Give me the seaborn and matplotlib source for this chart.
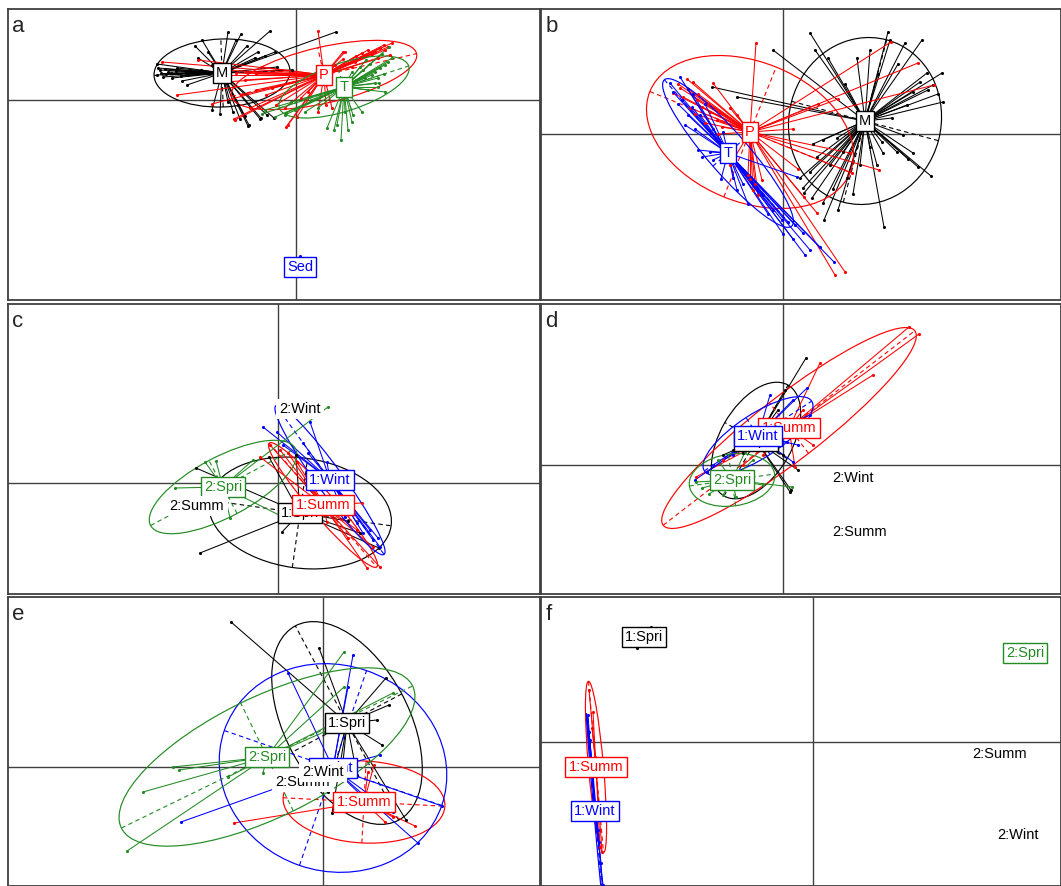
import numpy as np
import pandas as pd
import matplotlib
matplotlib.use("Agg")
import matplotlib.pyplot as plt
from matplotlib.patches import Ellipse
from matplotlib.collections import LineCollection
import seaborn as sns

sns.set_style("white")
plt.rcParams["font.family"] = ["Liberation Sans", "DejaVu Sans"]

BLACK, RED, BLUE, GREEN = "#000000", "#ff0000", "#0000ff", "#228b22"

# ---------------- panel a : classes M, P, Sed, T ----------------
a_labels = ["M", "P", "Sed", "T"]
a_colours = [BLACK, RED, BLUE, GREEN]
a_centres = [(-0.74, 0.27), (0.28, 0.25), (0.04, -1.67), (0.48, 0.13)]
a_ellipses = [(0.68, 0.34, 2), (0.95, 0.28, 13), None, (0.68, 0.24, 18)]
a_pts_M = [(-0.68, 0.68), (-0.26, 0.69), (0.40, 0.68), (-0.94, 0.60), (-0.49, 0.54), (-0.38, 0.48),
           (-1.01, 0.54), (-0.98, 0.42), (-0.88, 0.48), (-0.41, 0.42), (-0.31, 0.44), (-1.39, 0.36),
           (-1.38, 0.32), (-1.36, 0.30), (-1.39, 0.25), (-1.33, 0.23), (-1.28, 0.28), (-1.19, 0.32),
           (-1.24, 0.22), (-1.14, 0.19), (-1.09, 0.15), (-0.04, 0.30), (-0.19, 0.33), (-0.84, -0.10),
           (-0.76, -0.14), (-0.63, -0.12), (-0.56, -0.19), (-0.51, -0.16), (-0.47, -0.25), (-0.36, -0.19),
           (-0.29, -0.15), (-0.68, -0.02), (-0.58, -0.05), (-1.08, 0.25), (-1.31, 0.31), (-0.84, 0.35),
           (-0.21, 0.48), (-0.48, -0.26), (-0.35, -0.18), (-0.22, -0.18), (-1.30, 0.26), (-1.25, 0.27),
           (-1.20, 0.29), (-1.15, 0.24), (-1.35, 0.27), (-1.10, 0.28), (-1.00, 0.26), (-0.95, 0.30),
           (-0.60, 0.60), (-0.55, 0.66)]
a_pts_P = [(0.22, 0.69), (0.96, 0.57), (0.92, 0.53), (0.89, 0.50), (0.84, 0.52), (0.79, 0.48), (0.76, 0.46),
           (0.69, 0.45), (0.64, 0.42), (0.59, 0.38), (0.49, 0.48), (0.47, 0.41), (0.39, 0.35), (0.56, 0.33),
           (0.82, 0.42), (0.94, 0.45), (0.88, 0.55), (0.72, 0.50), (0.66, 0.47), (0.60, 0.44), (-1.34, 0.38),
           (-1.19, 0.05), (-0.84, -0.04), (-0.61, -0.20), (-0.46, -0.08), (-0.24, 0.12), (-0.08, -0.25),
           (-0.11, -0.08), (0.22, -0.12), (0.36, -0.08), (0.01, -0.17), (-0.71, 0.18), (-0.51, 0.20),
           (-0.34, 0.33), (0.12, 0.08), (-0.62, -0.19), (-0.10, -0.27), (0.47, 0.48), (-0.98, 0.40),
           (-0.40, 0.10), (-0.30, 0.05), (0.05, 0.02), (-0.20, -0.05), (0.30, -0.05), (-0.55, 0.05),
           (-0.75, 0.30), (-0.60, 0.27), (-0.50, 0.28), (-0.40, 0.26), (-0.70, 0.25)]
a_pts_Sed = [(0.04, -1.56)]
a_pts_T = [(0.96, 0.42), (0.92, 0.38), (0.89, 0.35), (0.84, 0.32), (0.79, 0.28), (0.76, 0.25), (0.69, 0.22),
           (0.64, 0.33), (0.56, 0.28), (0.82, 0.22), (0.93, 0.53), (0.83, 0.17), (0.89, 0.08), (0.82, 0.13),
           (0.79, 0.17), (0.72, 0.10), (0.45, -0.40), (0.31, -0.28), (0.41, -0.25), (0.56, -0.22),
           (0.66, -0.12), (0.49, -0.12), (0.57, -0.15), (-0.34, -0.14), (-0.21, -0.17), (-0.11, -0.15),
           (-0.01, -0.10), (0.09, -0.12), (0.22, -0.08), (-0.31, -0.10), (-0.10, -0.13), (0.38, -0.30),
           (0.52, -0.30), (0.86, 0.46), (0.74, 0.36), (0.67, 0.30), (0.60, 0.20), (0.88, 0.26),
           (0.70, 0.40), (0.15, 0.00), (-0.05, -0.02)]
a_points = [a_pts_M, a_pts_P, a_pts_Sed, a_pts_T]

# ---------------- panel b : classes M, P, T ----------------
b_labels = ["M", "P", "T"]
b_colours = [BLACK, RED, BLUE]
b_centres = [(0.82, 0.13), (-0.33, 0.02), (-0.55, -0.19)]
b_ellipses = [(0.84, 0.76, 75), (1.08, 0.70, -22), (0.97, 0.20, -49)]
b_pts_M = [(0.27, 1.01), (0.45, 0.76), (0.32, 0.84), (-0.10, 0.84), (0.74, 0.76), (0.87, 0.84), (1.05, 1.02),
           (1.07, 0.94), (1.22, 0.91), (1.39, 0.94), (1.44, 0.61), (1.59, 0.61), (1.50, 0.49), (1.37, 0.52),
           (1.30, 0.42), (1.24, 0.29), (1.60, 0.32), (1.09, 0.16), (-0.71, 0.47), (-0.46, 0.37), (0.40, -0.06),
           (0.54, -0.04), (0.60, -0.18), (0.34, -0.23), (0.27, -0.38), (0.20, -0.54), (0.29, -0.64),
           (0.40, -0.69), (0.55, -0.76), (0.41, -0.86), (1.01, -0.93), (0.21, -0.59), (0.17, -0.44),
           (1.00, -0.19), (1.14, -0.18), (1.30, -0.19), (1.35, -0.33), (0.99, -0.08), (0.87, -0.13),
           (0.94, -0.31), (0.47, -0.31), (0.64, -0.44), (0.77, -0.31), (1.20, -0.01), (1.45, 0.44),
           (1.55, 0.40), (1.15, 0.70), (0.95, 0.60), (0.62, 0.50), (0.30, -0.10), (0.50, -0.55),
           (0.70, -0.60), (1.48, -0.42), (1.25, -0.25)]
b_pts_P = [(-0.96, 0.55), (-0.90, 0.52), (-1.03, 0.46), (-1.10, 0.41), (-1.00, 0.37), (-0.86, 0.34),
           (-0.81, 0.27), (-0.73, 0.22), (-0.93, 0.26), (-0.66, 0.14), (-0.78, 0.11), (-0.61, 0.07),
           (-0.70, 0.51), (-0.53, 0.26), (-0.46, 0.19), (-0.95, 0.45), (-0.85, 0.40), (-0.75, 0.30),
           (-0.88, 0.20), (-0.30, -0.56), (-0.25, -0.61), (-0.21, -0.46), (-0.35, -0.41), (-0.53, -0.31),
           (-0.27, 0.91), (1.08, 0.92), (1.35, 0.71), (1.51, 0.49), (0.96, -0.36), (0.69, -0.39),
           (0.52, -1.41), (0.62, -1.38), (0.34, -0.79), (0.21, -0.63), (0.67, -0.19), (0.10, 0.05),
           (0.55, 0.35), (0.35, 0.30), (-0.28, -0.50), (-0.33, -0.45), (0.15, -0.35), (-0.65, 0.00),
           (-1.05, 0.50)]
b_pts_T = [(-1.03, 0.57), (-1.13, 0.51), (-1.10, 0.42), (-1.01, 0.34), (-0.95, 0.19), (-0.98, 0.09),
           (-0.91, 0.27), (-0.83, 0.19), (-0.85, -0.16), (-0.81, -0.23), (-0.73, -0.18), (-0.70, -0.26),
           (-0.50, -0.44), (-0.46, -0.56), (0.14, -0.43), (0.05, -0.88), (0.20, -0.99), (0.22, -1.21),
           (0.27, -1.16), (0.37, -1.13), (0.12, -0.91), (-0.10, -0.76), (-0.01, -0.86), (-0.20, -0.61),
           (0.51, -1.28), (-0.90, 0.40), (-0.88, 0.05), (-0.78, 0.30), (-1.05, 0.30), (-0.60, 0.02),
           (-0.35, -0.70), (-0.15, -0.80), (0.00, -1.00), (0.10, -1.05), (-0.40, -0.50), (-0.62, -0.45),
           (-0.95, 0.45), (-0.70, 0.05)]
b_points = [b_pts_M, b_pts_P, b_pts_T]

# ---------------- panels c-f : site x season classes ----------------
season_labels = ["1:Spri", "1:Summ", "1:Wint", "2:Spri", "2:Summ", "2:Wint"]
season_colours = [BLACK, RED, BLUE, GREEN, BLACK, BLACK]
season_boxed = [True, True, True, True, False, False]

c_centres = [(0.22, -0.30), (0.45, -0.22), (0.52, 0.03), (-0.55, -0.04), (-0.81, -0.23), (0.22, 0.74)]
c_ellipses = [(0.92, 0.55, -8), (0.82, 0.12, -49), (0.92, 0.13, -54), (0.82, 0.30, 28), None, None]
c_pts_1spri = [(-0.82, 0.15), (-0.78, -0.70), (0.04, -0.49), (0.82, -0.50), (1.01, -0.65), (0.18, 0.28),
               (-0.09, 0.26), (0.70, -0.38), (0.50, -0.30), (0.30, -0.20)]
c_pts_1summ = [(-0.18, 0.26), (-0.08, 0.38), (0.02, 0.33), (0.19, 0.21), (0.29, 0.11), (0.84, -0.20),
               (0.62, -0.30), (0.79, -0.47), (0.95, -0.64), (0.89, -0.85), (1.02, -0.84), (0.49, -0.39),
               (0.10, 0.30), (0.70, -0.55)]
c_pts_1wint = [(-0.15, 0.56), (-0.01, 0.51), (0.05, 0.38), (0.25, 0.40), (0.32, 0.61), (0.49, 0.21),
               (1.02, -0.64), (0.95, -0.57), (0.92, -0.47), (0.79, -0.40), (0.67, -0.34), (0.30, 0.30),
               (0.85, -0.50), (1.00, -0.55)]
c_pts_2spri = [(0.50, 0.76), (-1.03, -0.05), (-0.73, 0.21), (0.01, -0.32), (-0.25, 0.23), (-0.48, -0.35),
               (-0.62, 0.22)]
c_points = [c_pts_1spri, c_pts_1summ, c_pts_1wint, c_pts_2spri, [], []]

d_centres = [(-0.27, 0.245), (0.06, 0.37), (-0.25, 0.29), (-0.51, -0.15), (0.77, -0.67), (0.70, -0.13)]
d_ellipses = [(0.64, 0.36, 60), (1.59, 0.32, 37.7), (0.64, 0.22, 33), (0.43, 0.26, 8), None, None]
d_pts_1spri = [(0.23, 1.07), (0.07, -0.27), (-0.60, 0.10), (0.02, 0.75), (0.08, -0.25), (-0.05, 0.55),
               (0.10, 0.40), (-0.50, 0.15), (-0.40, 0.12), (0.00, 0.10), (0.15, -0.05)]
d_pts_1summ = [(0.37, 1.02), (1.26, 1.38), (1.36, 1.31), (0.12, -0.02), (-0.87, -0.12), (-0.60, 0.05),
               (0.30, 0.20), (0.20, 0.55), (-0.20, 0.10), (0.90, 0.90), (-0.40, 0.00)]
d_pts_1wint = [(-0.13, 0.70), (0.24, 0.77), (0.10, 0.65), (0.27, 0.50), (0.04, 0.23), (-0.76, -0.07),
               (-0.88, -0.15), (0.10, 0.03), (-0.50, 0.10), (-0.70, 0.00), (0.15, 0.20)]
d_pts_2spri = [(0.09, -0.22), (-0.74, -0.29), (-0.60, -0.30), (-0.47, -0.32), (-0.38, 0.13), (-0.81, -0.23),
               (-0.87, -0.17), (-0.20, -0.20), (-0.30, 0.05), (-0.65, 0.05)]
d_points = [d_pts_1spri, d_pts_1summ, d_pts_1wint, d_pts_2spri, [], []]

e_centres = [(0.24, 0.44), (0.41, -0.35), (0.10, -0.01), (-0.56, 0.10), (-0.20, -0.15), (0.00, -0.05)]
e_ellipses = [(1.10, 0.62, 118), (0.81, 0.41, -3), (1.15, 1.03, -19), (1.62, 0.60, 26), None, None]
e_pts_1spri = [(-0.92, 1.45), (-0.04, 1.19), (0.63, 0.89), (0.66, 0.62), (0.59, 0.22), (0.09, -0.46),
               (0.83, -0.53), (0.05, -0.25), (0.54, 0.47), (0.34, -0.08), (0.20, 0.05)]
e_pts_1summ = [(-0.89, -0.56), (0.92, -0.59), (0.51, 0.02), (0.62, -0.55), (0.70, -0.50), (0.45, -0.05)]
e_pts_1wint = [(0.30, 1.12), (-0.35, 0.94), (-1.42, -0.55), (0.95, -0.76), (0.57, 0.12), (1.19, -0.39),
               (0.25, 0.80), (0.40, -0.30), (0.70, -0.45)]
e_pts_2spri = [(0.21, 1.15), (0.21, 0.80), (-1.44, -0.03), (-1.80, -0.25), (-1.96, -0.84), (-0.60, -0.06),
               (0.70, 0.74), (0.01, 0.35), (-1.50, 0.00), (-0.95, -0.10)]
e_points = [e_pts_1spri, e_pts_1summ, e_pts_1wint, e_pts_2spri, [], []]

f_centres = [(-1.69, 1.05), (-2.17, -0.25), (-2.18, -0.69), (2.12, 0.89), (1.87, -0.12), (2.05, -0.93)]
f_ellipses = [None, (0.86, 0.075, -85), (0.98, 0.012, -85), None, None, None]
f_pts_1spri = [(-1.62, 1.15), (-1.76, 0.94)]
f_pts_1summ = [(-2.21, 0.14), (-2.18, -0.15), (-2.13, -1.05), (-2.11, -1.10), (-2.24, 0.52), (-2.20, 0.30)]
f_pts_1wint = [(-2.26, 0.22), (-2.23, 0.02), (-2.15, -0.88), (-2.12, -1.21), (-2.10, -1.43), (-2.25, 0.27),
               (-2.24, 0.10), (-2.14, -1.00)]
f_points = [f_pts_1spri, f_pts_1summ, f_pts_1wint, [], [], []]

# ---------------- drawing helpers ----------------
FIG_W, FIG_H = 1061, 886
fig = plt.figure(figsize=(FIG_W / 100, FIG_H / 100), dpi=100)
fig.patch.set_facecolor("white")
FRAME = "#404040"


def make_panel(box, xlim, ylim, letter):
    left, top, right, bottom = box
    ax = fig.add_axes([left / FIG_W, 1 - bottom / FIG_H, (right - left) / FIG_W, (bottom - top) / FIG_H])
    ax.set_facecolor("white")
    ax.axhline(0, color=FRAME, lw=1.0, zorder=1)
    ax.axvline(0, color=FRAME, lw=1.0, zorder=1)
    for sp in ax.spines.values():
        sp.set_color(FRAME)
        sp.set_linewidth(1.3)
    ax.text(0.008, 0.975, letter, transform=ax.transAxes, ha="left", va="top", fontsize=16, zorder=6)
    ax._lims = (xlim, ylim)
    return ax


def draw_group(ax, centre, pts, ell, colour):
    cx, cy = centre
    if pts:
        segs = [[(cx, cy), p] for p in pts]
        ax.add_collection(LineCollection(segs, colors=colour, linewidths=0.75, zorder=2))
        df = pd.DataFrame(pts, columns=["x", "y"])
        sns.scatterplot(data=df, x="x", y="y", color=colour, s=5, linewidth=0,
                        ax=ax, legend=False, zorder=3)
    if ell is not None:
        a, b, ang = ell
        ax.add_patch(Ellipse((cx, cy), 2 * a, 2 * b, angle=ang, fill=False,
                             ec=colour, lw=0.85, zorder=2))
        t = np.deg2rad(ang)
        ux, uy = np.cos(t), np.sin(t)
        dash = (0, (4, 3))
        ax.plot([cx - a * ux, cx + a * ux], [cy - a * uy, cy + a * uy],
                color=colour, lw=0.8, ls=dash, zorder=2)
        ax.plot([cx + b * uy, cx - b * uy], [cy - b * ux, cy + b * ux],
                color=colour, lw=0.8, ls=dash, zorder=2)


def draw_label(ax, centre, text, colour, boxed=True):
    ax.text(centre[0], centre[1], text, ha="center", va="center", fontsize=10.5,
            color=colour, zorder=5,
            bbox=dict(boxstyle="square,pad=0.22", fc="white",
                      ec=colour if boxed else "none", lw=1.0))


def finish(ax):
    xlim, ylim = ax._lims
    ax.set_xlim(*xlim)
    ax.set_ylim(*ylim)
    ax.set_xticks([])
    ax.set_yticks([])
    ax.set_xlabel("")
    ax.set_ylabel("")


def draw_panel(ax, labels, colours, centres, ellipses, points, boxed):
    for c, p, e, col in zip(centres, points, ellipses, colours):
        draw_group(ax, c, p, e, col)
    for c, lab, col, bx in zip(centres, labels, colours, boxed):
        draw_label(ax, c, lab, col, bx)
    finish(ax)


# ---------------- figure ----------------
ax_a = make_panel((8, 9, 540, 300), (-2.88, 2.44), (-2.00, 0.91), "a")
draw_panel(ax_a, a_labels, a_colours, a_centres, a_ellipses, a_points, [True] * 4)

ax_b = make_panel((541, 9, 1061, 300), (-2.42, 2.78), (-1.66, 1.25), "b")
draw_panel(ax_b, b_labels, b_colours, b_centres, b_ellipses, b_points, [True] * 3)

ax_c = make_panel((8, 304, 540, 594), (-2.70, 2.62), (-1.11, 1.79), "c")
draw_panel(ax_c, season_labels, season_colours, c_centres, c_ellipses, c_points, season_boxed)

ax_d = make_panel((541, 304, 1061, 594), (-2.42, 2.78), (-1.29, 1.61), "d")
draw_panel(ax_d, season_labels, season_colours, d_centres, d_ellipses, d_points, season_boxed)

ax_e = make_panel((8, 597, 540, 886), (-3.15, 2.17), (-1.19, 1.70), "e")
draw_panel(ax_e, season_labels, season_colours, e_centres, e_ellipses, e_points, season_boxed)

ax_f = make_panel((541, 597, 1061, 886), (-2.72, 2.48), (-1.44, 1.45), "f")
draw_panel(ax_f, season_labels, season_colours, f_centres, f_ellipses, f_points, season_boxed)

fig.savefig("out.png", dpi=100, facecolor="white")
